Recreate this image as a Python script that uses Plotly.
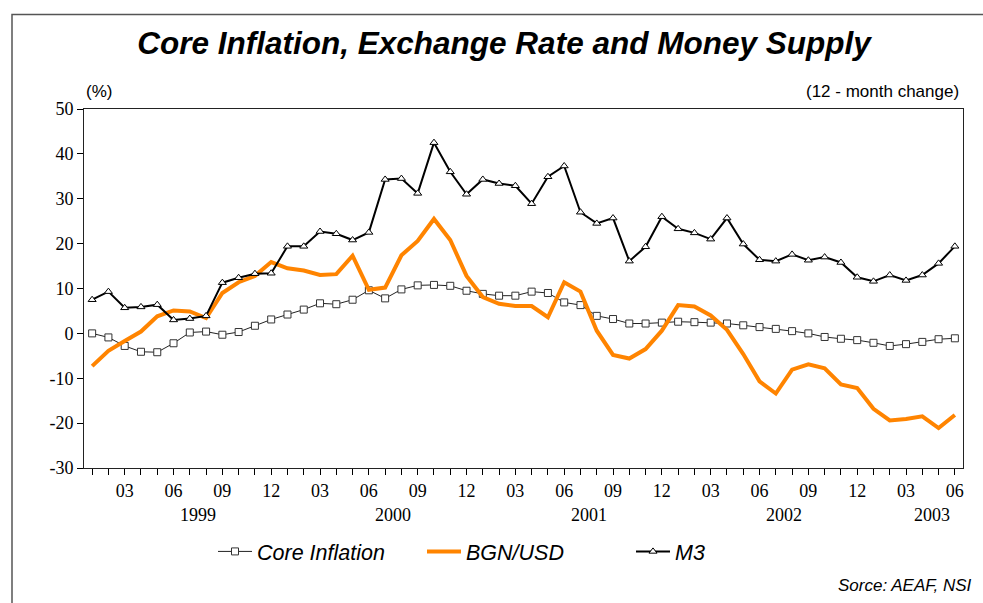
import plotly.graph_objects as go

# ---- data (Jan 1999 .. Jun 2003, monthly) ----
years = [1999, 2000, 2001, 2002, 2003]
months_per_year = [12, 12, 12, 12, 6]
period = [f"{y}-{m:02d}" for y, n in zip(years, months_per_year) for m in range(1, n + 1)]
tick_text = [p[5:] if int(p[5:]) % 3 == 0 else "" for p in period]

core_inflation = [0.0, -0.9, -2.8, -4.1, -4.2, -2.2, 0.2, 0.4, -0.3, 0.3, 1.7, 3.1,
                  4.2, 5.3, 6.7, 6.5, 7.5, 9.6, 7.8, 9.8, 10.7, 10.8, 10.6, 9.5,
                  8.8, 8.4, 8.4, 9.3, 9.0, 6.9, 6.3, 3.9, 3.2, 2.2, 2.2, 2.4,
                  2.6, 2.5, 2.4, 2.2, 1.8, 1.4, 1.0, 0.5, 0.0, -0.8, -1.2, -1.5,
                  -2.1, -2.8, -2.4, -1.9, -1.3, -1.1]
bgn_usd = [-7.3, -3.9, -1.7, 0.4, 3.8, 5.1, 4.9, 3.4, 9.0, 11.4, 12.8, 15.9,
           14.5, 14.0, 13.0, 13.2, 17.3, 9.7, 10.2, 17.4, 20.6, 25.5, 20.8, 12.8,
           8.1, 6.6, 6.1, 6.1, 3.6, 11.4, 9.3, 0.6, -4.8, -5.6, -3.5, 0.6,
           6.3, 6.0, 4.0, 0.8, -4.6, -10.7, -13.4, -8.1, -6.9, -7.8, -11.4, -12.2,
           -16.8, -19.4, -19.1, -18.5, -21.1, -18.2]
m3 = [7.5, 9.3, 5.7, 5.9, 6.4, 3.0, 3.3, 3.9, 11.3, 12.4, 13.3, 13.4,
      19.4, 19.4, 22.7, 22.2, 20.8, 22.5, 34.3, 34.5, 31.2, 42.5, 36.0, 31.0,
      34.3, 33.4, 32.9, 28.9, 34.9, 37.3, 27.0, 24.5, 25.7, 16.1, 19.3, 26.0,
      23.3, 22.4, 21.0, 25.7, 19.9, 16.4, 16.1, 17.6, 16.3, 17.0, 15.8, 12.5,
      11.6, 13.0, 11.8, 13.0, 15.6, 19.4]
y_ticks = [50, 40, 30, 20, 10, 0, -10, -20, -30]
y_tick_text = ["50", "40", "30", "20", "10", "0", "-10", "-20", "-30"]
year_label_pos = [6.5, 18.5, 30.5, 42.5, 51.6]

x = list(range(len(period)))

fig = go.Figure()
fig.add_trace(go.Scatter(
    x=x, y=core_inflation, name="Core Inflation", mode="lines+markers",
    line=dict(color="#222222", width=1),
    marker=dict(symbol="square", size=7, color="white",
                line=dict(color="#333333", width=1))))
fig.add_trace(go.Scatter(
    x=x, y=bgn_usd, name="BGN/USD", mode="lines",
    line=dict(color="#FF8400", width=4)))
fig.add_trace(go.Scatter(
    x=x, y=m3, name="M3", mode="lines+markers",
    line=dict(color="#000000", width=2),
    marker=dict(symbol="triangle-up", size=7, color="white",
                line=dict(color="#000000", width=1))))

PL, PR, PT, PB = 84, 963, 109.3, 467.7
W, H = 983, 603


def px_x(px):
    return (px - PL) / (PR - PL)


def px_y(py):
    return (PB - py) / (PB - PT)


annotations = [
    dict(text="(%)", x=px_x(99), y=px_y(92), xref="paper", yref="paper",
         showarrow=False, xanchor="center", yanchor="middle",
         font=dict(family="Liberation Sans", size=17, color="black")),
    dict(text="(12 - month change)", x=px_x(961), y=px_y(92), xref="paper", yref="paper",
         showarrow=False, xanchor="right", yanchor="middle",
         font=dict(family="Liberation Sans", size=17, color="black")),
    dict(text="<i>Sorce: AEAF, NSI</i>", x=px_x(973), y=px_y(585), xref="paper", yref="paper",
         showarrow=False, xanchor="right", yanchor="middle",
         font=dict(family="Liberation Sans", size=17, color="black")),
]
for yr, pos in zip(years, year_label_pos):
    annotations.append(dict(text=str(yr), x=pos, y=px_y(515), xref="x", yref="paper",
                            showarrow=False, xanchor="center", yanchor="middle",
                            font=dict(family="Liberation Serif", size=18, color="black")))

fig.update_layout(
    width=W, height=H,
    margin=dict(l=PL, r=W - PR, t=PT, b=H - PB, pad=0),
    paper_bgcolor="white", plot_bgcolor="white",
    title=dict(text="<b><i>Core Inflation, Exchange Rate and Money Supply</i></b>",
               x=504 / W, y=1 - 43 / H, xanchor="center", yanchor="middle",
               xref="container", yref="container",
               font=dict(family="Liberation Sans", size=31.5, color="black")),
    xaxis=dict(range=[-0.5, len(period) - 0.5], tickmode="array", tickvals=x,
               ticktext=tick_text, ticks="outside", ticklen=6, tickcolor="black",
               showline=True, linecolor="#222222", linewidth=1, mirror=True,
               showgrid=False, zeroline=False,
               tickfont=dict(family="Liberation Serif", size=18, color="black")),
    yaxis=dict(range=[-30, 50], tickmode="array", tickvals=y_ticks,
               ticktext=y_tick_text, ticks="outside", ticklen=6, tickcolor="black",
               showline=True, linecolor="#222222", linewidth=1, mirror=True,
               showgrid=False, zeroline=False,
               tickfont=dict(family="Liberation Serif", size=18, color="black")),
    legend=dict(orientation="h", x=px_x(213), y=px_y(551), xanchor="left", yanchor="middle",
                entrywidth=160, itemwidth=34,
                font=dict(family="Liberation Sans", size=21.5, color="black", style="italic"),
                bgcolor="rgba(0,0,0,0)"),
    annotations=annotations,
    shapes=[dict(type="rect", xref="paper", yref="paper",
                 x0=px_x(12), x1=px_x(1000), y0=px_y(620), y1=px_y(15),
                 line=dict(color="#555555", width=1.5), fillcolor="rgba(0,0,0,0)")],
)

fig.write_html("out.html", config={"displayModeBar": False},
               post_script="document.body.style.margin='0';")
